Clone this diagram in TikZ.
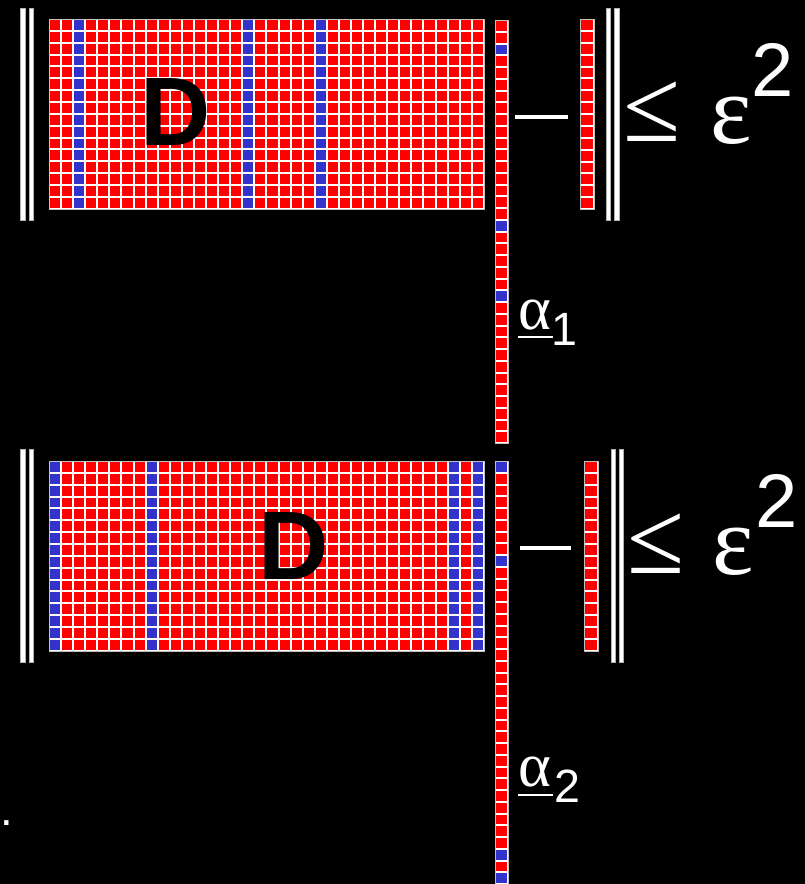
\documentclass[tikz,border=0pt]{standalone}
\usepackage{fontspec}
\setmainfont{Liberation Sans}
\newfontfamily\grk{Liberation Serif}
\definecolor{cellred}{RGB}{255,0,0}
\definecolor{cellblue}{RGB}{51,51,204}
\tikzset{
  celloutline/.style={fill=white,draw=gray!50,line width=0.5pt},
  redcell/.style={fill=cellred},
  bluecell/.style={fill=cellblue},
  normbar/.style={fill=white,draw=gray!60,line width=0.3pt},
  lbl/.style={text=white,inner sep=0pt,outer sep=0pt},
}
% \cellgrid{x0}{y0}{cols}{rows}{px}{py}
\newcommand\cellgrid[6]{%
  \path[celloutline] (#1,#2) rectangle ({round(#1+#3*#5)},{round(#2+#4*#6)});
  \foreach \ci in {1,...,#3}{\foreach \ri in {1,...,#4}{%
    \path[redcell] ({round(#1+(\ci-1)*#5)+1},{round(#2+(\ri-1)*#6)+1}) rectangle ({round(#1+\ci*#5)-1},{round(#2+\ri*#6)-1});}}}
% \bluecolumn{x0}{y0}{rows}{px}{py}{col}
\newcommand\bluecolumn[6]{%
  \foreach \ri in {1,...,#3}{%
    \path[bluecell] ({round(#1+#6*#4)+1},{round(#2+(\ri-1)*#5)+1}) rectangle ({round(#1+(#6+1)*#4)-1},{round(#2+\ri*#5)-1});}}
% \blueentry{x0}{y0}{w}{py}{row}
\newcommand\blueentry[5]{%
  \path[bluecell] ({#1+1},{round(#2+#5*#4)+1}) rectangle ({#1+#3-1},{round(#2+(#5+1)*#4)-1});}
\begin{document}
\begin{tikzpicture}[x=0.75pt,y=-0.75pt]
\path[fill=black] (0,0) rectangle (805,884);
\useasboundingbox (0,0) rectangle (805,884);

% ---------- top equation ----------
\cellgrid{49}{19}{36}{16}{12.08}{11.85}
\foreach \c in {2,16,22}{\bluecolumn{49}{19}{16}{12.08}{11.85}{\c}}
\cellgrid{495}{20}{1}{36}{13}{11.75}
\foreach \r in {2,17,23}{\blueentry{495}{20}{13}{11.75}{\r}}
\cellgrid{580}{19}{1}{16}{14}{11.875}

\path[normbar] (20.3,8.3) rectangle (24.7,220.7);
\path[normbar] (28.7,8.3) rectangle (33,220.7);
\path[normbar] (606,8.3) rectangle (610.2,220.7);
\path[normbar] (614.4,8.3) rectangle (618.7,220.7);
\path[fill=white] (515,115) rectangle (568,119);

\node[lbl,text=black,font=\bfseries\fontsize{73}{73}\selectfont] (D1) at (175.5,112.5) {D};
\node[lbl,font=\grk\fontsize{78}{78}\selectfont] (le1) at (652.5,112) {≤};
\node[lbl,font=\grk\fontsize{74}{74}\selectfont] (eps1) at (731,121) {ε};
\node[lbl,font=\fontsize{57}{57}\selectfont] (sq1) at (773,70) {2};
\node[lbl,font=\grk\fontsize{47}{47}\selectfont] (al1) at (535.3,315) {α};
\node[lbl,font=\fontsize{35}{35}\selectfont] (sub1) at (564.5,329.5) {1};
\path[fill=white] (518,335.5) rectangle (553,338);

% ---------- bottom equation ----------
\cellgrid{49}{461}{36}{16}{12.08}{11.85}
\foreach \c in {0,8,33,35}{\bluecolumn{49}{461}{16}{12.08}{11.85}{\c}}
\cellgrid{495}{461}{1}{36}{13}{11.75}
\foreach \r in {0,8,33,35}{\blueentry{495}{461}{13}{11.75}{\r}}
\cellgrid{584}{461}{1}{16}{14}{11.85}

\path[normbar] (20.3,449.3) rectangle (24.7,661.7);
\path[normbar] (28.7,449.3) rectangle (33,661.7);
\path[normbar] (610.7,449.3) rectangle (614.7,661.7);
\path[normbar] (619,449.3) rectangle (623,661.7);
\path[fill=white] (520,546.3) rectangle (571,550.3);

\node[lbl,text=black,font=\bfseries\fontsize{73}{73}\selectfont] (D2) at (294,546) {D};
\node[lbl,font=\grk\fontsize{78}{78}\selectfont] (le2) at (655.8,543.3) {≤};
\node[lbl,font=\grk\fontsize{74}{74}\selectfont] (eps2) at (733.3,551.7) {ε};
\node[lbl,font=\fontsize{57}{57}\selectfont] (sq2) at (776.7,501.3) {2};
\node[lbl,font=\grk\fontsize{47}{47}\selectfont] (al2) at (535.3,772.3) {α};
\node[lbl,font=\fontsize{35}{35}\selectfont] (sub2) at (567.5,786.5) {2};
\path[fill=white] (518,793.5) rectangle (553,796);

\node[lbl,anchor=base west,font=\fontsize{34}{34}\selectfont] (dot) at (0,825) {.};
\end{tikzpicture}
\end{document}
